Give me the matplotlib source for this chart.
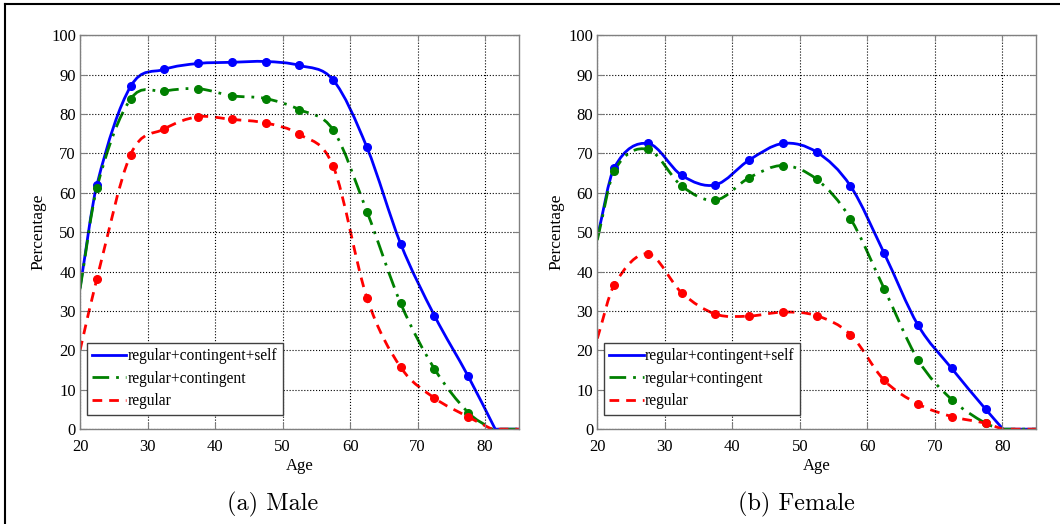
import numpy as np
import matplotlib
matplotlib.use('Agg')
import matplotlib.pyplot as plt
from matplotlib.path import Path
from matplotlib.patches import PathPatch
from matplotlib.lines import Line2D

# ages where the survey points sit
ages = [22.5, 27.5, 32.5, 37.5, 42.5, 47.5, 52.5, 57.5, 62.5, 67.5, 72.5, 77.5]

# male
male_all = [62.0, 87.0, 91.3, 92.8, 93.1, 93.3, 92.3, 88.6, 71.5, 47.0, 28.8, 13.4]
male_cont = [61.3, 83.8, 85.8, 86.4, 84.6, 83.9, 81.1, 75.9, 55.2, 31.9, 15.3, 4.2]
male_reg = [38.2, 69.7, 76.2, 79.3, 78.6, 77.7, 74.8, 66.7, 33.3, 15.7, 7.9, 3.1]
male_start = [35.9, 35.5, 20.0]   # value of each curve at age 20
male_end = [81.5, 81.0, 81.0]     # age where each curve hits zero

# female
fem_all = [66.3, 72.5, 64.4, 62.0, 68.3, 72.5, 70.3, 61.7, 44.6, 26.4, 15.4, 5.1]
fem_cont = [65.5, 71.0, 61.7, 58.1, 63.8, 66.9, 63.4, 53.4, 35.6, 17.6, 7.5, 1.5]
fem_reg = [36.6, 44.5, 34.6, 29.2, 28.7, 29.7, 28.8, 24.0, 12.4, 6.4, 3.2, 1.5]
fem_start = [48.7, 48.0, 23.0]
fem_end = [80.1, 80.0, 80.0]

labels = ['regular+contingent+self', 'regular+contingent', 'regular']
colors = ['#0000ff', '#008000', '#ff0000']
styles = ['-', (0, (6, 2.5, 1, 2.5)), (0, (3.5, 2.5))]

plt.rcParams['font.family'] = ['Liberation Serif', 'DejaVu Serif']


def smooth_path(xs, ys, x_last):
    # cubic bezier through the knots (catmull-rom tangents), flat tail after zero
    xs = np.asarray(xs, float)
    ys = np.asarray(ys, float)
    n = len(xs)
    m = np.zeros(n)
    m[0] = (ys[1] - ys[0]) / (xs[1] - xs[0])
    m[-1] = (ys[-1] - ys[-2]) / (xs[-1] - xs[-2])
    for i in range(1, n - 1):
        m[i] = (ys[i + 1] - ys[i - 1]) / (xs[i + 1] - xs[i - 1])
    verts = [(xs[0], ys[0])]
    codes = [Path.MOVETO]
    for i in range(n - 1):
        h = xs[i + 1] - xs[i]
        verts += [(xs[i] + h / 3, ys[i] + m[i] * h / 3),
                  (xs[i + 1] - h / 3, ys[i + 1] - m[i + 1] * h / 3),
                  (xs[i + 1], ys[i + 1])]
        codes += [Path.CURVE4] * 3
    verts.append((x_last, 0))
    codes.append(Path.LINETO)
    return Path(verts, codes)


def draw_panel(ax, series, starts, ends):
    for vals, s0, e, c, ls in zip(series, starts, ends, colors, styles):
        xs = [20] + ages + [e]
        ys = [s0] + vals + [0]
        ax.add_patch(PathPatch(smooth_path(xs, ys, 85), facecolor='none',
                               edgecolor=c, lw=2, linestyle=ls,
                               clip_on=True))
        ax.plot(ages, vals, 'o', color=c, ms=5.5, zorder=3)
    ax.set_xlim(20, 85)
    ax.set_ylim(0, 100)
    ax.set_xticks(range(20, 90, 10))
    ax.set_yticks(range(0, 110, 10))
    ax.grid(True, color='black', linestyle=':', lw=0.8)
    ax.tick_params(direction='in', top=True, right=True, length=4,
                   labelsize=12, color='#808080')
    ax.tick_params(axis='x', pad=7)
    ax.tick_params(axis='y', pad=3)
    for sp in ax.spines.values():
        sp.set_color('#808080')
        sp.set_linewidth(1)
    ax.set_xlabel('Age', fontsize=12, labelpad=2)
    ax.set_ylabel('Percentage', fontsize=12.5, labelpad=3)
    handles = [Line2D([], [], color=c, lw=2, linestyle=ls)
               for c, ls in zip(colors, styles)]
    leg = ax.legend(handles, labels, loc='lower left',
                    bbox_to_anchor=(0.015, 0.037), borderaxespad=0,
                    fontsize=11.2, handlelength=2.2, handletextpad=0.1,
                    labelspacing=0.42, fancybox=False, framealpha=1,
                    borderpad=0.35)
    leg.get_frame().set_edgecolor('#404040')
    leg.get_frame().set_linewidth(1)


fig = plt.figure(figsize=(10.6, 5.24), dpi=100)
ax1 = fig.add_axes([0.0755, 0.181, 0.414, 0.752])
ax2 = fig.add_axes([0.5635, 0.181, 0.414, 0.752])

draw_panel(ax1, [male_all, male_cont, male_reg], male_start, male_end)
draw_panel(ax2, [fem_all, fem_cont, fem_reg], fem_start, fem_end)

fig.text(0.257, 0.038, '(a) Male', family=['cmr10', 'DejaVu Serif'],
         fontsize=17.5, ha='center', va='center')
fig.text(0.751, 0.038, '(b) Female', family=['cmr10', 'DejaVu Serif'],
         fontsize=17.5, ha='center', va='center')

# page frame lines
fig.add_artist(Line2D([0.005, 1.0], [0.992, 0.992], color='black', lw=1.5))
fig.add_artist(Line2D([0.005, 0.005], [0.0, 0.992], color='black', lw=1.5))

fig.savefig('out.png', dpi=100)
